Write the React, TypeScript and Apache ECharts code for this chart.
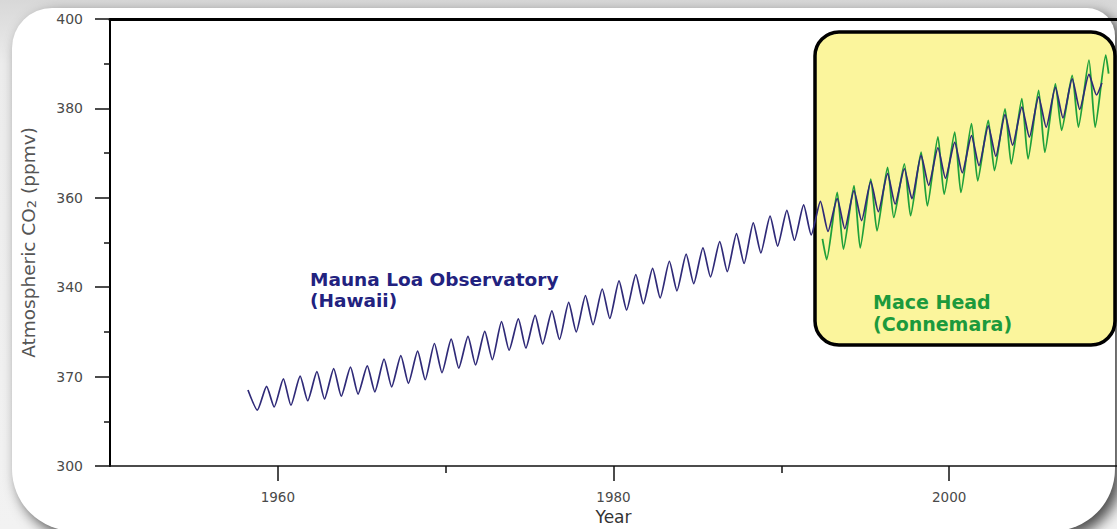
import React, { useEffect, useRef } from "react";
import * as echarts from "echarts";

// ---- data ----
// Mauna Loa: seasonal maxima (spring) 1959..2008 and minima (autumn) 1958..2008, ppmv
const mlStart: [number, number] = [1958.22, 317.0];
const mlEnd: [number, number] = [2009.1, 385.7];
const mlTroughFirstYear = 1958;
const mlTroughs = [
  312.5, 313.2, 313.6, 314.6, 315.0, 315.6, 316.1, 316.6, 317.7, 318.5,
  319.3, 320.9, 321.9, 322.6, 323.8, 325.9, 326.4, 327.3, 328.3, 330.0,
  331.6, 333.0, 334.9, 336.3, 337.6, 339.2, 340.8, 342.3, 343.5, 345.3,
  347.7, 349.2, 350.5, 351.7, 352.5, 353.1, 354.9, 356.9, 358.6, 359.8,
  362.8, 364.4, 365.6, 367.2, 369.3, 371.8, 373.6, 375.8, 377.9, 379.8,
  383.0,
];
const mlPeakFirstYear = 1959;
const mlPeaks = [
  317.8, 319.5, 320.1, 321.1, 321.8, 322.1, 322.4, 323.9, 324.7, 325.7,
  327.4, 328.4, 329.0, 330.1, 332.3, 332.9, 333.7, 334.7, 336.6, 338.1,
  339.6, 341.4, 342.8, 344.2, 345.8, 347.4, 348.8, 350.2, 352.0, 354.4,
  355.9, 357.2, 358.4, 359.2, 359.8, 361.6, 363.6, 365.4, 366.5, 369.5,
  371.2, 372.4, 373.9, 376.1, 378.6, 380.3, 382.6, 384.7, 386.6, 387.6,
];

// Mace Head: minima 1992..2008, maxima 1993..2009, ppmv
const mhStart: [number, number] = [1992.45, 350.8];
const mhEnd: [number, number] = [2009.5, 387.8];
const mhTroughFirstYear = 1992;
const mhTroughs = [
  346.2, 348.5, 348.8, 352.6, 355.6, 356.0, 358.2, 360.8, 361.2, 363.8,
  366.1, 367.6, 368.7, 370.2, 375.1, 375.8, 375.8,
];
const mhPeakFirstYear = 1993;
const mhPeaks = [
  361.2, 362.7, 364.2, 366.8, 367.6, 370.2, 373.6, 374.7, 376.6, 377.3,
  379.9, 382.2, 384.0, 385.5, 387.4, 390.8, 391.9,
];

// seasonal timing of the extremes within a year (fraction of year)
const peakPhase = 0.33;
const mlTroughPhase = 0.78;
const mhTroughPhase = 0.7;

// axes
const xMajorTicks = [1960, 1980, 2000];
const xMinorTicks = [1970, 1990];
const yTickValues = [300, 320, 340, 360, 380, 400];
const yTickLabels = ["300", "370", "340", "360", "380", "400"];

function buildSeries(
  start: [number, number],
  end: [number, number],
  troughYear0: number,
  troughs: number[],
  troughPhase: number,
  peakYear0: number,
  peaks: number[]
): [number, number][] {
  const pts: [number, number][] = [start];
  troughs.forEach((v, i) => pts.push([troughYear0 + i + troughPhase, v]));
  peaks.forEach((v, i) => pts.push([peakYear0 + i + peakPhase, v]));
  pts.push(end);
  pts.sort((a, b) => a[0] - b[0]);
  return pts;
}

const mlData = buildSeries(mlStart, mlEnd, mlTroughFirstYear, mlTroughs, mlTroughPhase, mlPeakFirstYear, mlPeaks);
const mhData = buildSeries(mhStart, mhEnd, mhTroughFirstYear, mhTroughs, mhTroughPhase, mhPeakFirstYear, mhPeaks);

const FONT = '"DejaVu Sans", Verdana, sans-serif';

export default function App() {
  const ref = useRef<HTMLDivElement>(null);
  useEffect(() => {
    if (!ref.current) return;
    const chart = echarts.init(ref.current, undefined, { renderer: "svg" });
    chart.setOption({
      animation: false,
      grid: { left: 110, right: 0, top: 19, bottom: 63, containLabel: false, outerBoundsMode: "none" },
      xAxis: [
        {
          type: "value",
          min: 1950,
          max: 2010,
          position: "bottom",
          axisLine: { show: true, lineStyle: { color: "#111", width: 1.5 } },
          axisTick: { show: true, length: 15, customValues: xMajorTicks, lineStyle: { color: "#111", width: 1.5 } },
          axisLabel: {
            customValues: xMajorTicks,
            margin: 24,
            fontSize: 13.5,
            color: "#4a4a4a",
            fontFamily: FONT,
            formatter: (v: number) => String(v),
          },
          splitLine: { show: false },
          name: "Year",
          nameLocation: "middle",
          nameGap: 42,
          nameMoveOverlap: false,
          nameTextStyle: { fontSize: 17, color: "#333", fontFamily: FONT },
        },
        {
          type: "value",
          min: 1950,
          max: 2010,
          position: "bottom",
          axisLine: { show: false },
          axisTick: { show: true, length: 7, customValues: xMinorTicks, lineStyle: { color: "#111", width: 1.5 } },
          axisLabel: { show: false },
          splitLine: { show: false },
        },
        {
          type: "value",
          min: 1950,
          max: 2010,
          position: "top",
          axisLine: { show: true, lineStyle: { color: "#000", width: 3 } },
          axisTick: { show: false },
          axisLabel: { show: false },
          splitLine: { show: false },
        },
      ],
      yAxis: {
        type: "value",
        min: 300,
        max: 400,
        interval: 20,
        axisLine: { show: true, lineStyle: { color: "#000", width: 2 } },
        axisTick: { show: true, length: 15, lineStyle: { color: "#111", width: 1.5 } },
        minorTick: { show: true, splitNumber: 2, length: 6, lineStyle: { color: "#111", width: 1.5 } },
        minorSplitLine: { show: false },
        splitLine: { show: false },
        axisLabel: {
          margin: 27,
          fontSize: 14,
          color: "#4a4a4a",
          fontFamily: FONT,
          formatter: (v: number) => {
            const i = yTickValues.indexOf(v);
            return i >= 0 ? yTickLabels[i] : "";
          },
        },
        name: "Atmospheric CO{s|2} (ppmv)",
        nameLocation: "middle",
        nameGap: 72,
        nameMoveOverlap: false,
        nameTextStyle: {
          fontSize: 18.5,
          color: "#555",
          fontFamily: FONT,
          rich: { s: { fontSize: 13, color: "#555", fontFamily: FONT, verticalAlign: "bottom", padding: [6, 0, 0, 0] } },
        },
      },
      graphic: [
        {
          type: "rect",
          z: 1,
          shape: { x: 815, y: 32, width: 300, height: 313, r: 24 },
          style: { fill: "#fbf59c", stroke: "#000", lineWidth: 3.5 },
        },
        {
          type: "text",
          z: 5,
          left: 310,
          top: 269,
          style: { text: "Mauna Loa Observatory\n(Hawaii)", font: `bold 18.5px ${FONT}`, fill: "#22227f", lineHeight: 21 },
        },
        {
          type: "text",
          z: 5,
          left: 873,
          top: 291,
          style: { text: "Mace Head\n(Connemara)", font: `bold 19px ${FONT}`, fill: "#1c9a3c", lineHeight: 22 },
        },
      ],
      series: [
        {
          type: "line",
          name: "Mace Head",
          data: mhData,
          showSymbol: false,
          smooth: 0.2,
          z: 3,
          lineStyle: { color: "#1fa03a", width: 1.8 },
        },
        {
          type: "line",
          name: "Mauna Loa",
          data: mlData,
          showSymbol: false,
          smooth: 0.2,
          z: 4,
          lineStyle: { color: "#2f2a78", width: 1.7 },
        },
      ],
    });
    return () => chart.dispose();
  }, []);

  return (
    <div
      style={{
        position: "fixed",
        left: 0,
        top: 0,
        width: 1117,
        height: 529,
        overflow: "hidden",
        background: "linear-gradient(#d8d8d8, #ececec 12%, #f2f2f2)",
      }}
    >
      <div
        style={{
          position: "absolute",
          left: 12,
          top: 8,
          width: 1103,
          height: 523,
          background: "#fff",
          borderRadius: "40px 28px 62px 62px",
          boxShadow: "6px 6px 14px rgba(0,0,0,0.7)",
        }}
      />
      <div ref={ref} style={{ position: "absolute", left: 0, top: 0, width: 1117, height: 529 }} />
    </div>
  );
}
